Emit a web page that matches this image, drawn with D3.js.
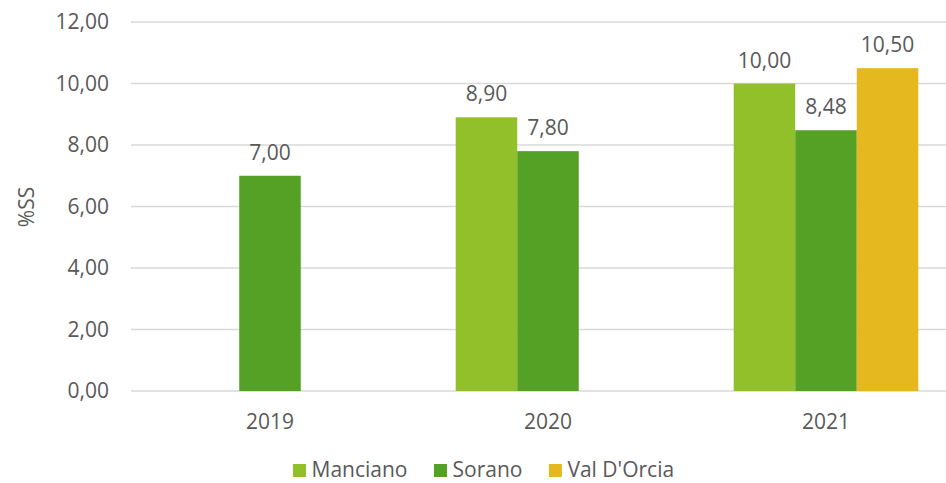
<!DOCTYPE html>
<html>
<head>
<meta charset="utf-8">
<script src="https://cdn.jsdelivr.net/npm/d3@7"></script>
<style>
  body { margin: 0; background: #fff; }
  text { font-family: "Open Sans", sans-serif; fill: #595959; }
</style>
</head>
<body>
<div id="chart"></div>
<script>
// Données
const years = ["2019", "2020", "2021"];
const seriesNames = ["Manciano", "Sorano", "Val D'Orcia"];
const manciano = [null, 8.90, 10.00];
const sorano = [7.00, 7.80, 8.48];
const valDOrcia = [null, null, 10.50];
const yTicks = [0, 2, 4, 6, 8, 10, 12];

const colors = ["#92C02A", "#55A126", "#E5B820"];
const allSeries = [manciano, sorano, valDOrcia];

const width = 946, height = 483;
const plot = { left: 131, right: 965, top: 22, bottom: 391 };

var svg = d3
  .select("#chart")
  .append("svg")
  .attr("width", width)
  .attr("height", height);

let x0 = d3.scaleBand().domain(years).range([plot.left, plot.right])
  .paddingInner(0.336).paddingOuter(0.168);
let x1 = d3.scaleBand().domain(seriesNames).range([0, x0.bandwidth()]);
let y = d3.scaleLinear().domain([0, 12]).range([plot.bottom, plot.top]);

let fmt = function (v) { return d3.format(".2f")(v).replace(".", ","); };

// grille
svg.selectAll("grid")
  .data(yTicks)
  .enter()
  .append("line")
  .attr("x1", plot.left)
  .attr("x2", width)
  .attr("y1", function (d) { return y(d); })
  .attr("y2", function (d) { return y(d); })
  .attr("stroke", "#D9D9D9")
  .attr("stroke-width", 1.5);

// axe y
svg.selectAll("ylabels")
  .data(yTicks)
  .enter()
  .append("text")
  .attr("x", 109)
  .attr("y", function (d) { return y(d); })
  .attr("dy", "0.35em")
  .attr("text-anchor", "end")
  .style("font-size", "21px")
  .text(fmt);

svg.append("text")
  .attr("transform", "translate(34,207) rotate(-90)")
  .attr("text-anchor", "middle")
  .style("font-size", "21px")
  .text("%SS");

// axe x
svg.selectAll("xlabels")
  .data(years)
  .enter()
  .append("text")
  .attr("x", function (d) { return x0(d) + x0.bandwidth() / 2; })
  .attr("y", 429)
  .attr("text-anchor", "middle")
  .style("font-size", "21px")
  .text(function (d) { return d; });

// barres
let bars = [];
allSeries.forEach(function (vals, s) {
  vals.forEach(function (v, i) {
    if (v !== null) bars.push({ year: years[i], name: seriesNames[s], value: v, color: colors[s] });
  });
});

svg.selectAll("bars")
  .data(bars)
  .enter()
  .append("rect")
  .attr("x", function (d) { return x0(d.year) + x1(d.name); })
  .attr("y", function (d) { return y(d.value); })
  .attr("width", x1.bandwidth())
  .attr("height", function (d) { return y(0) - y(d.value); })
  .style("fill", function (d) { return d.color; });

svg.selectAll("vlabels")
  .data(bars)
  .enter()
  .append("text")
  .attr("x", function (d) { return x0(d.year) + x1(d.name) + x1.bandwidth() / 2; })
  .attr("y", function (d) { return y(d.value) - 16; })
  .attr("text-anchor", "middle")
  .style("font-size", "21px")
  .text(function (d) { return fmt(d.value); });

// légende
let lx = 293;
seriesNames.forEach(function (name, s) {
  svg.append("rect")
    .attr("x", lx)
    .attr("y", 464)
    .attr("width", 13)
    .attr("height", 13)
    .style("fill", colors[s]);
  let t = svg.append("text")
    .attr("x", lx + 18.5)
    .attr("y", 477)
    .style("font-size", "21px")
    .text(name);
  lx += 18.5 + t.node().getComputedTextLength() + 26.5;
});
</script>
</body>
</html>
